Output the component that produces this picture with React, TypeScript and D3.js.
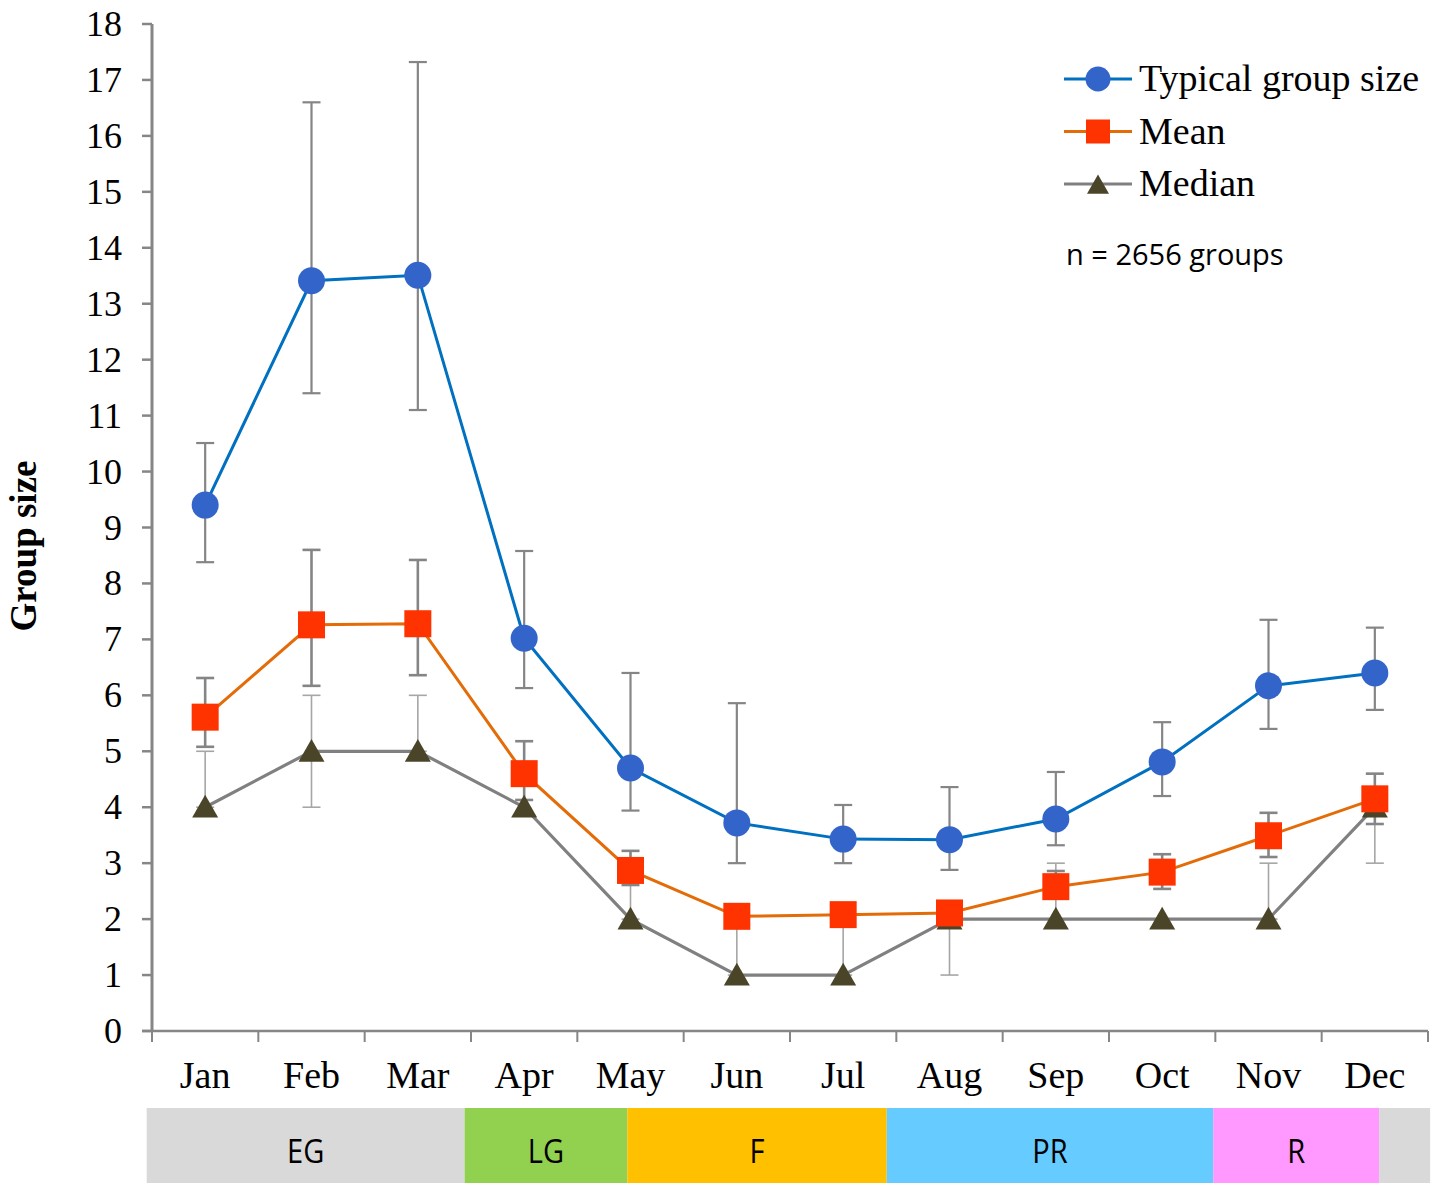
import React from "react";
import * as d3 from "d3";

const months = ["Jan", "Feb", "Mar", "Apr", "May", "Jun", "Jul", "Aug", "Sep", "Oct", "Nov", "Dec"];
const typical = [9.4, 13.41, 13.51, 7.02, 4.7, 3.72, 3.43, 3.42, 3.79, 4.81, 6.17, 6.4];
const typicalLow = [8.38, 11.4, 11.1, 6.13, 3.94, 3.0, 3.0, 2.88, 3.32, 4.2, 5.4, 5.74];
const typicalHigh = [10.51, 16.6, 17.32, 8.58, 6.4, 5.86, 4.04, 4.36, 4.63, 5.52, 7.35, 7.21];
const meanVals = [5.61, 7.26, 7.28, 4.6, 2.87, 2.05, 2.08, 2.11, 2.58, 2.84, 3.49, 4.15];
const meanLow = [5.08, 6.17, 6.36, 4.13, 2.61, 1.9, 1.95, 1.95, 2.4, 2.54, 3.11, 3.7];
const meanHigh = [6.31, 8.6, 8.42, 5.18, 3.22, 2.2, 2.2, 2.25, 2.86, 3.16, 3.9, 4.6];
const medianVals = [4, 5, 5, 4, 2, 1, 1, 2, 2, 2, 2, 4];
const medianLow = [4, 4, 5, 4, 2, 1, 1, 1, 2, 2, 2, 3];
const medianHigh = [5, 6, 6, 4, 3, 2, 2, 2, 3, 2, 3, 4];
const yTicks = d3.range(0, 19);

const phaseNames = ["EG", "LG", "F", "PR", "R", ""];
const phaseStart = [-0.05, 2.94, 4.47, 6.91, 9.98, 11.54];
const phaseEnd = [2.94, 4.47, 6.91, 9.98, 11.54, 12.02];
const phaseColors = ["#D9D9D9", "#92D050", "#FFC000", "#66CCFF", "#FF99FF", "#D9D9D9"];

const legendNames = ["Typical group size", "Mean", "Median"];

const W = 1443;
const H = 1183;
const left = 152;
const right = 1428;
const top = 24;
const bottom = 1031;

export default function App() {
  const x = d3.scaleLinear().domain([0, 12]).range([left, right]);
  const y = d3.scaleLinear().domain([0, 18]).range([bottom, top]);
  const cx = (i: number) => x(i + 0.5);
  const line = d3
    .line<number>()
    .x((_, i) => cx(i))
    .y((d) => y(d));

  const serif = "'Liberation Serif', 'Times New Roman', serif";
  const sans = "'Open Sans', 'Noto Sans', sans-serif";
  const axisColor = "#868686";

  const errBar = (lo: number[], hi: number[], color: string, w: number, key: string) =>
    months.map((_, i) => {
      if (lo[i] === hi[i]) return null;
      const xc = cx(i);
      return (
        <g key={key + i} stroke={color} strokeWidth={w}>
          <line x1={xc} x2={xc} y1={y(lo[i])} y2={y(hi[i])} />
          <line x1={xc - 9} x2={xc + 9} y1={y(lo[i])} y2={y(lo[i])} />
          <line x1={xc - 9} x2={xc + 9} y1={y(hi[i])} y2={y(hi[i])} />
        </g>
      );
    });

  const tri = (xc: number, yc: number, s: number) =>
    `M${xc},${yc - s * 0.95} L${xc + s},${yc + s * 0.8} L${xc - s},${yc + s * 0.8} Z`;

  return (
    <svg
      width={W}
      height={H}
      style={{ position: "absolute", left: 0, top: 0, background: "#fff" }}
    >
      {/* phase band */}
      {phaseNames.map((p, i) => {
        const mx = (x(phaseStart[i]) + x(phaseEnd[i])) / 2;
        return (
          <g key={"ph" + i}>
            <rect
              x={x(phaseStart[i])}
              y={1108}
              width={x(phaseEnd[i]) - x(phaseStart[i])}
              height={H - 1108}
              fill={phaseColors[i]}
            />
            {p && (
              <text
                transform={`translate(${mx},1150) scale(0.88,1)`}
                fontFamily={sans}
                fontSize={33}
                textAnchor="middle"
                dominantBaseline="central"
                fill="#000"
              >
                {p}
              </text>
            )}
          </g>
        );
      })}

      {/* axes */}
      <line x1={left} x2={left} y1={top} y2={bottom} stroke={axisColor} strokeWidth={3} />
      <line x1={left - 10} x2={right} y1={bottom} y2={bottom} stroke={axisColor} strokeWidth={2.5} />
      {yTicks.map((t) => (
        <g key={"yt" + t}>
          <line x1={left - 10} x2={left} y1={y(t)} y2={y(t)} stroke={axisColor} strokeWidth={2.5} />
          <text
            x={122}
            y={y(t) + 12}
            textAnchor="end"
            fontFamily={serif}
            fontSize={36}
            fill="#000"
          >
            {t}
          </text>
        </g>
      ))}
      {d3.range(0, 13).map((i) => (
        <line
          key={"xt" + i}
          x1={x(i)}
          x2={x(i)}
          y1={bottom}
          y2={bottom + 11}
          stroke={axisColor}
          strokeWidth={2}
        />
      ))}
      {months.map((m, i) => (
        <text
          key={"m" + m}
          x={cx(i)}
          y={1088}
          textAnchor="middle"
          fontFamily={serif}
          fontSize={38}
          fill="#000"
        >
          {m}
        </text>
      ))}
      <text
        transform={`translate(36,${546}) rotate(-90)`}
        textAnchor="middle"
        fontFamily={serif}
        fontWeight="bold"
        fontSize={37}
        fill="#000"
      >
        Group size
      </text>

      {/* error bars */}
      {errBar(medianLow, medianHigh, "#A6A6A6", 1.6, "eMed")}
      {errBar(typicalLow, typicalHigh, "#858585", 2.2, "eTyp")}
      {errBar(meanLow, meanHigh, "#858585", 2.6, "eMean")}

      {/* lines */}
      <path d={line(medianVals) || ""} fill="none" stroke="#808080" strokeWidth={3.2} />
      <path d={line(meanVals) || ""} fill="none" stroke="#E36C09" strokeWidth={3} />
      <path d={line(typical) || ""} fill="none" stroke="#0070C0" strokeWidth={3} />

      {/* markers */}
      {medianVals.map((v, i) => (
        <path key={"tm" + i} d={tri(cx(i), y(v), 13)} fill="#4A4429" />
      ))}
      {meanVals.map((v, i) => (
        <rect key={"sm" + i} x={cx(i) - 13.5} y={y(v) - 13.5} width={27} height={27} fill="#FF3300" />
      ))}
      {typical.map((v, i) => (
        <circle key={"cm" + i} cx={cx(i)} cy={y(v)} r={13.5} fill="#3264CA" />
      ))}

      {/* legend */}
      {legendNames.map((n, i) => {
        const ly = 79 + i * 52.5;
        const colors = ["#0070C0", "#E36C09", "#808080"];
        return (
          <g key={"lg" + i}>
            <line x1={1064} x2={1132} y1={ly} y2={ly} stroke={colors[i]} strokeWidth={3} />
            {i === 0 && <circle cx={1098} cy={ly} r={12.5} fill="#3264CA" />}
            {i === 1 && <rect x={1086} y={ly - 12} width={24} height={24} fill="#FF3300" />}
            {i === 2 && <path d={tri(1098, ly + 1, 11)} fill="#4A4429" />}
            <text
              x={1139}
              y={ly + 12}
              fontFamily={serif}
              fontSize={38}
              fill="#000"
            >
              {n}
            </text>
          </g>
        );
      })}
      <text x={1066} y={253} dominantBaseline="central" fontFamily={sans} fontSize={29} fill="#000">
        n = 2656 groups
      </text>
    </svg>
  );
}
